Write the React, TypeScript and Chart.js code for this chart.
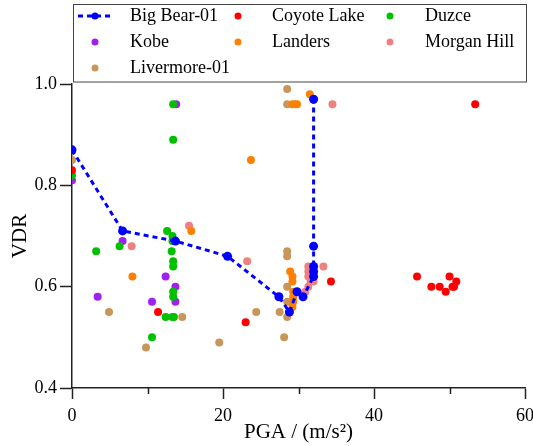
import React, { useEffect, useRef } from 'react';
import { Chart, registerables } from 'chart.js';

Chart.register(...registerables);

const FONT = '"Liberation Serif", "Times New Roman", serif';

// ---- data ----
const seriesNames = ['Big Bear-01', 'Coyote Lake', 'Duzce', 'Kobe', 'Landers', 'Morgan Hill', 'Livermore-01'];
const seriesColors = ['#0000FF', '#FF0000', '#00C000', '#A020F0', '#FF8000', '#F08080', '#C8965A'];

const bigBearPGA = [0, 6.7, 13.7, 20.6, 27.4, 28.8, 29.8, 30.6, 32.0, 32.0, 32.0, 32.0, 32.0];
const bigBearVDR = [0.87, 0.71, 0.69, 0.66, 0.58, 0.55, 0.59, 0.58, 0.62, 0.63, 0.64, 0.68, 0.97];

const coyotePGA = [0, 11.4, 23.0, 34.3, 45.7, 47.6, 48.7, 49.5, 50.0, 50.4, 50.6, 50.9, 53.4];
const coyoteVDR = [0.83, 0.55, 0.53, 0.61, 0.62, 0.60, 0.60, 0.59, 0.62, 0.60, 0.60, 0.61, 0.96];

const duzcePGA = [0, 3.2, 6.3, 10.6, 12.4, 13.3, 13.5, 12.6, 13.3, 13.3, 13.2, 13.4, 13.4, 13.4, 13.4, 13.4, 13.4];
const duzceVDR = [0.82, 0.67, 0.68, 0.50, 0.54, 0.54, 0.54, 0.71, 0.70, 0.69, 0.67, 0.65, 0.64, 0.59, 0.58, 0.89, 0.96];

const kobePGA = [0, 3.4, 6.7, 10.6, 12.4, 13.7, 13.7, 13.8];
const kobeVDR = [0.81, 0.58, 0.69, 0.57, 0.62, 0.60, 0.57, 0.96];

const landersPGA = [8.0, 15.8, 23.7, 28.9, 29.2, 29.2, 29.3, 29.3, 29.3, 29.2, 29.2, 29.6, 29.8, 31.5];
const landersVDR = [0.62, 0.71, 0.85, 0.63, 0.62, 0.61, 0.59, 0.58, 0.57, 0.56, 0.96, 0.96, 0.96, 0.98];

const morganPGA = [7.9, 15.5, 23.2, 34.5, 33.3, 31.3, 31.3, 31.3, 31.6, 31.3, 30.9, 32.0];
const morganVDR = [0.68, 0.72, 0.65, 0.96, 0.64, 0.64, 0.63, 0.62, 0.61, 0.60, 0.59, 0.61];

const liverPGA = [0, 4.9, 9.8, 14.6, 19.5, 24.4, 28.1, 27.5, 28.5, 28.5, 28.5, 28.5, 28.5, 28.5, 28.5];
const liverVDR = [0.85, 0.55, 0.48, 0.54, 0.49, 0.55, 0.50, 0.55, 0.54, 0.57, 0.60, 0.66, 0.67, 0.99, 0.96];

const xTicks = [0, 20, 40, 60];
const xMinorTicks = [10, 30, 50];
const yTicks = [0.4, 0.6, 0.8, 1.0];

const xTitle = 'PGA / (m/s\u00B2)';
const yTitle = 'VDR';

const seriesPGA = [bigBearPGA, coyotePGA, duzcePGA, kobePGA, landersPGA, morganPGA, liverPGA];
const seriesVDR = [bigBearVDR, coyoteVDR, duzceVDR, kobeVDR, landersVDR, morganVDR, liverVDR];

const toPoints = (xs: number[], ys: number[]) => xs.map((x, i) => ({ x, y: ys[i] }));

const AXIS_COLOR = '#222';

const minorTickPlugin = {
  id: 'minorTicks',
  afterDraw(chart: any) {
    const ctx = chart.ctx;
    const xs = chart.scales.x;
    const bottom = chart.chartArea.bottom;
    ctx.save();
    ctx.strokeStyle = AXIS_COLOR;
    ctx.lineWidth = 1.5;
    xMinorTicks.forEach((v) => {
      const px = Math.round(xs.getPixelForValue(v)) + 0.5;
      ctx.beginPath();
      ctx.moveTo(px, bottom);
      ctx.lineTo(px, bottom + 6);
      ctx.stroke();
    });
    ctx.restore();
  },
};

const boxLegendPlugin = {
  id: 'boxLegend',
  afterDraw(chart: any) {
    const ctx = chart.ctx;
    ctx.save();
    ctx.strokeStyle = '#444';
    ctx.lineWidth = 1;
    ctx.strokeRect(73.5, 4.5, 453, 77.5);
    const colMarker = [95, 238, 390];
    const colText = [130, 272, 425];
    const rowY = [16, 42, 68];
    chart.data.datasets.forEach((ds: any, i: number) => {
      const r = Math.floor(i / 3);
      const c = i % 3;
      const mx = colMarker[c];
      const y = rowY[r];
      if (ds.showLine) {
        ctx.save();
        ctx.setLineDash([5, 4]);
        ctx.strokeStyle = ds.borderColor;
        ctx.lineWidth = 3;
        ctx.beginPath();
        ctx.moveTo(mx - 17, y);
        ctx.lineTo(mx + 17, y);
        ctx.stroke();
        ctx.restore();
      }
      ctx.fillStyle = ds.backgroundColor;
      ctx.beginPath();
      ctx.arc(mx, y, 3.5, 0, Math.PI * 2);
      ctx.fill();
      ctx.fillStyle = '#000';
      ctx.font = `18px ${FONT}`;
      ctx.textBaseline = 'middle';
      ctx.textAlign = 'left';
      ctx.fillText(ds.label, colText[c], y);
    });
    ctx.restore();
  },
};

export default function App() {
  const canvasRef = useRef<HTMLCanvasElement | null>(null);

  useEffect(() => {
    document.body.style.margin = '0';
    const canvas = canvasRef.current;
    if (!canvas) return;

    const datasets = seriesNames.map((name, i) => ({
      label: name,
      data: toPoints(seriesPGA[i], seriesVDR[i]),
      backgroundColor: seriesColors[i],
      borderColor: seriesColors[i],
      pointRadius: i === 0 ? 4.5 : 4,
      pointBorderWidth: 0,
      pointHoverRadius: 4,
      showLine: i === 0,
      borderWidth: 3,
      borderDash: [5, 4],
      tension: 0,
    }));

    const chart = new Chart(canvas, {
      type: 'scatter',
      data: { datasets },
      options: {
        animation: false,
        responsive: false,
        maintainAspectRatio: false,
        layout: { padding: { left: 0, top: 84, right: 0, bottom: 0 } },
        plugins: {
          legend: { display: false },
          tooltip: { enabled: false },
        },
        scales: {
          x: {
            type: 'linear',
            min: 0,
            max: 60,
            afterFit: (s: any) => { s.height = 58; s.paddingRight = 8; },
            afterBuildTicks: (s: any) => { s.ticks = xTicks.map((v) => ({ value: v })); },
            ticks: {
              color: '#000',
              font: { family: FONT, size: 18 },
              padding: 6,
              maxRotation: 0,
              callback: (v: any) => String(v),
            },
            grid: {
              display: true,
              drawOnChartArea: false,
              drawTicks: true,
              tickLength: 11,
              tickWidth: 1.5,
              tickColor: AXIS_COLOR,
            },
            border: { display: true, color: AXIS_COLOR, width: 1.5 },
            title: {
              display: true,
              text: xTitle,
              color: '#000',
              font: { family: FONT, size: 21 },
              padding: { top: 0, bottom: 1 },
            },
          },
          y: {
            type: 'linear',
            min: 0.4,
            max: 1.0,
            afterFit: (s: any) => { s.width = 72; },
            afterBuildTicks: (s: any) => { s.ticks = yTicks.map((v) => ({ value: v })); },
            ticks: {
              color: '#000',
              font: { family: FONT, size: 18 },
              padding: 3,
              callback: (v: any) => Number(v).toFixed(1),
            },
            grid: {
              display: true,
              drawOnChartArea: false,
              drawTicks: true,
              tickLength: 12,
              tickWidth: 1.5,
              tickColor: AXIS_COLOR,
            },
            border: { display: true, color: AXIS_COLOR, width: 1.5 },
            title: {
              display: true,
              text: yTitle,
              color: '#000',
              font: { family: FONT, size: 21 },
              padding: { top: 8, bottom: 0 },
            },
          },
        },
      },
      plugins: [minorTickPlugin, boxLegendPlugin],
    } as any);

    return () => {
      chart.destroy();
    };
  }, []);

  return (
    <div style={{ width: 533, height: 446 }}>
      <canvas ref={canvasRef} width={533} height={446} style={{ display: 'block' }} />
    </div>
  );
}
